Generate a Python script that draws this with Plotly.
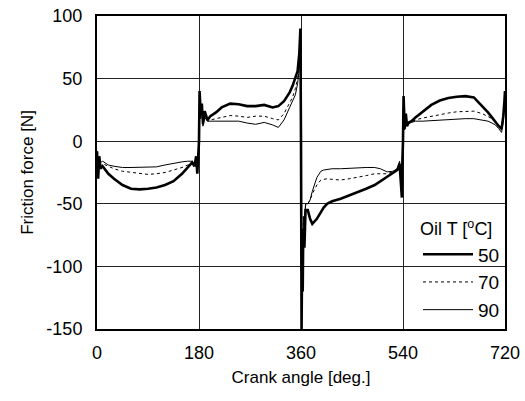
import plotly.graph_objects as go

# Crank angle [deg.] sample positions
crank_angle = [
    0, 2, 4, 6, 10, 20, 30, 45, 60, 75, 90, 105, 120, 135, 150, 160, 168, 172, 175, 177, 179,
    180, 181, 183, 185, 187, 190, 195, 200, 210, 220, 235, 250, 265, 280, 295, 310, 320, 330, 340, 345, 350, 354, 357, 359,
    360, 361, 362, 363, 364, 366, 368, 372, 376, 380, 388, 395, 400, 406, 415, 430, 445, 460, 475, 490, 500, 512, 522, 530, 534, 536, 538, 539,
    540, 541, 543, 545, 547, 550, 555, 562, 575, 590, 605, 620, 635, 650, 665, 680, 690, 697, 703, 709, 714, 717, 719, 720,
]

# Friction force [N] for oil temperature 50 degC
force_50 = [
    -8, -30, -12, -22, -20, -26, -30, -35, -38, -38.5, -38, -37, -35, -32, -26, -21, -17, -20, -12, -26, -10,
    0, 40, 22, 30, 14, 24, 17, 20, 23, 27, 30, 29.5, 28, 28, 29, 27, 28, 32, 39, 44, 50, 56, 70, 90,
    0, -150, -90, -120, -70, -85, -55, -55, -62, -66, -62, -57, -53, -50, -48, -46, -43.5, -41, -38, -35, -32, -29, -26, -23, -18, -30, -45, -15,
    0, 36, 10, 22, 12, 15, 16, 19, 24, 29, 32.5, 34.5, 35.5, 36, 35, 28, 23, 19, 15, 12, 10, 20, 32, 40,
]

# Friction force [N] for oil temperature 70 degC
force_70 = [
    -8, -25, -14, -20, -18, -20, -22, -24, -25, -26, -26.5, -26, -25, -23, -21, -19, -18, -19, -13, -24, -12,
    0, 35, 20, 28, 13, 21, 16, 17, 18, 19.5, 20.5, 20, 19, 20, 20, 18, 17, 22, 30, 35, 42, 50, 62, 80,
    0, -145, -85, -115, -65, -75, -52, -50, -47, -42, -35, -31, -30.5, -30, -30.5, -31, -30, -29, -27.5, -26, -26, -26, -24.5, -22, -17, -28, -40, -14,
    0, 33, 9, 20, 12, 14, 15, 17, 18.5, 20, 21.5, 22.5, 23.5, 24, 24, 22, 20, 18, 15, 12, 9, 18, 30, 38,
]

# Friction force [N] for oil temperature 90 degC
force_90 = [
    -8, -22, -13, -17, -16, -19, -20, -21, -21, -21, -21, -20.5, -19, -17.5, -16.5, -16, -16, -18, -14, -22, -13,
    0, 32, 18, 25, 12, 19, 16, 16, 16, 16.5, 16, 16, 14.5, 13.5, 15, 13, 11, 17, 27, 32, 37, 46, 58, 75,
    0, -140, -80, -110, -60, -70, -50, -50, -47, -40, -29, -24, -23, -22.5, -22, -22, -21.5, -21, -21, -21, -22, -24.5, -24, -22, -16, -27, -36, -13,
    0, 30, 9, 18, 12, 14, 15, 16, 16, 16.5, 17, 17.5, 18, 18, 18, 17, 16, 14.5, 13, 10, 7, 16, 28, 35,
]

series_names = ["50", "70", "90"]
x_ticks = [0, 180, 360, 540, 720]
y_ticks = [-150, -100, -50, 0, 50, 100]

fig = go.Figure()
fig.add_trace(go.Scatter(x=crank_angle, y=force_50, mode="lines", name=series_names[0],
                         line=dict(color="black", width=2.6)))
fig.add_trace(go.Scatter(x=crank_angle, y=force_70, mode="lines", name=series_names[1],
                         line=dict(color="black", width=1, dash="dot")))
fig.add_trace(go.Scatter(x=crank_angle, y=force_90, mode="lines", name=series_names[2],
                         line=dict(color="black", width=1)))

font_family = "Liberation Sans, Arial, sans-serif"

fig.update_layout(
    width=525, height=401,
    margin=dict(l=97, r=20, t=16, b=72, autoexpand=False),
    paper_bgcolor="white", plot_bgcolor="white",
    font=dict(family=font_family, size=18, color="black"),
    showlegend=True,
    legend=dict(
        title=dict(text="Oil T [<sup>o</sup>C]", font=dict(size=18)),
        x=1.0, xanchor="right", y=0.0, yanchor="bottom",
        bgcolor="rgba(0,0,0,0)", borderwidth=0,
        font=dict(size=19), itemwidth=50,
        traceorder="normal",
    ),
)

fig.update_xaxes(
    range=[0, 720], tickvals=x_ticks, ticktext=[str(v) for v in x_ticks],
    showgrid=True, gridcolor="#222", gridwidth=1,
    showline=True, linecolor="black", linewidth=2, mirror=True,
    zeroline=False, ticks="", ticklabelstandoff=6,
    title=dict(text="Crank angle [deg.]", font=dict(size=17), standoff=10),
)
fig.update_yaxes(
    range=[-150, 100], tickvals=y_ticks, ticktext=[str(v) for v in y_ticks],
    showgrid=True, gridcolor="#222", gridwidth=1,
    showline=True, linecolor="black", linewidth=2, mirror=True,
    zeroline=False, ticks="", ticklabelstandoff=9,
    title=dict(text="Friction force [N]", font=dict(size=17), standoff=8),
)

fig.write_html("out.html", config={"displayModeBar": False},
               post_script="document.body.style.margin='0';")
